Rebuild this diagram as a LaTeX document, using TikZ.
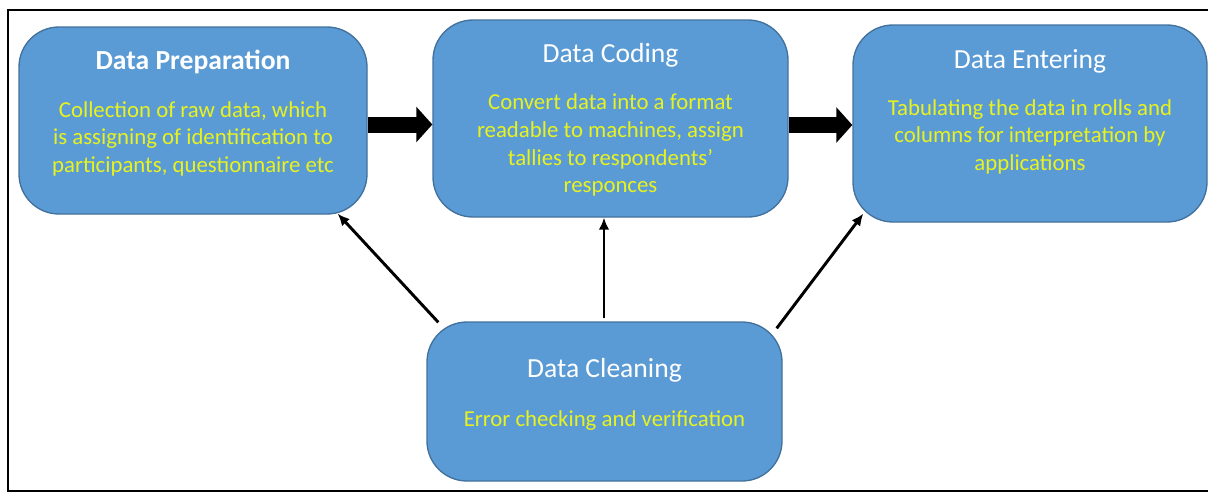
\documentclass[tikz,border=0pt]{standalone}
\usepackage{fontspec}
\setmainfont{Carlito}
\usetikzlibrary{arrows.meta,calc}
\definecolor{boxfill}{RGB}{91,155,213}
\definecolor{boxline}{RGB}{65,113,156}
\definecolor{bodytext}{RGB}{232,242,30}
\tikzset{
  stage/.style={draw=boxline, line width=1pt, fill=boxfill, rounded corners=30pt, inner sep=0pt},
  heading/.style={text=white, font=\fontsize{20.7}{25}\selectfont, inner sep=0pt, anchor=base},
  detail/.style={text=bodytext, font=\fontsize{17.1}{20.8}\selectfont, align=center, inner sep=0pt, anchor=north},
  bigarrow/.style={line width=12pt, -{Triangle[length=12pt,width=26pt]}},
  thinarrow/.style={line width=2.2pt, -{Latex[length=9pt,width=8pt]}},
  frameline/.style={line width=1.5pt}
}
\begin{document}
\begin{tikzpicture}[x=0.75pt,y=-0.75pt]
\useasboundingbox (0,0) rectangle (1208,493);
% outer frame, open on the right
\draw[frameline] (1212,10) -- (7.5,10) -- (7.5,491) -- (1212,491);

% stage boxes
\node[stage, minimum width=261pt, minimum height=140.25pt] (prep) at (193,120.5) {};
\node[stage, minimum width=266.25pt, minimum height=147.75pt] (coding) at (610.5,118.5) {};
\node[stage, minimum width=265.5pt, minimum height=147.75pt] (enter) at (1030,123.5) {};
\node[stage, minimum width=266.25pt, minimum height=119.25pt] (clean) at (604.5,401.5) {};

% headings
\node[heading, font=\fontsize{20.7}{25}\selectfont\bfseries] (prepT) at (193,69.5) {Data Preparation};
\node[heading] (codingT) at (610.5,62.5) {Data Coding};
\node[heading] (enterT) at (1030,68.5) {Data Entering};
\node[heading] (cleanT) at (604.5,377) {Data Cleaning};

% descriptions
\node[detail] (prepB) at (193,101) {Collection of raw data, which\\is assigning of identification to\\participants, questionnaire etc};
\node[detail] (codingB) at (610.5,93.5) {Convert data into a format\\readable to machines, assign\\tallies to respondents'\\responces};
\node[detail] (enterB) at (1030,99) {Tabulating the data in rolls and\\columns for interpretation by\\applications};
\node[detail] (cleanB) at (604.5,410) {Error checking and verification};

% main flow
\draw[bigarrow] (prep.east |- 0,124.5) -- (coding.west |- 0,124.5);
\draw[bigarrow] (coding.east |- 0,125) -- (enter.west |- 0,125);

% feedback from cleaning
\coordinate (cl1) at ($(clean.north west)+(12,1)$);
\coordinate (pr1) at ($(prep.south east)+(-30,-1)$);
\coordinate (cl2) at ($(clean.north)+(-0.5,-3)$);
\coordinate (co2) at (cl2 |- coding.south);
\coordinate (cl3) at ($(clean.north east)+(-6,7)$);
\coordinate (en3) at ($(enter.south west)+(11,-9)$);
\draw[thinarrow] (cl1) -- (pr1);
\draw[thinarrow] (cl2) -- (co2);
\draw[thinarrow] (cl3) -- (en3);
\end{tikzpicture}
\end{document}
